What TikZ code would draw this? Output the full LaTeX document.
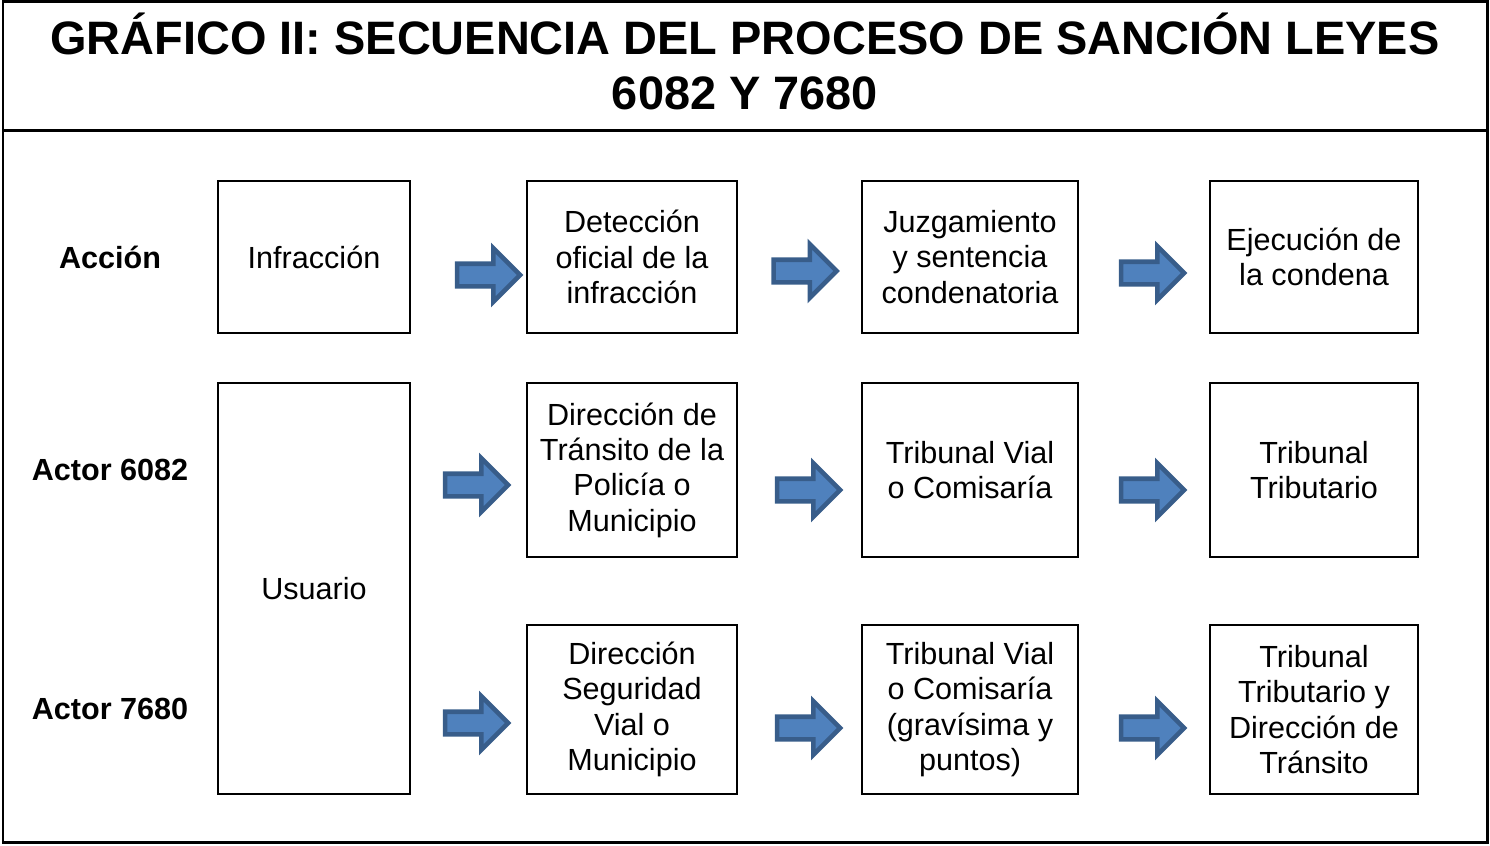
\documentclass[tikz,border=0pt]{standalone}
\usepackage{fontspec}
\setmainfont{Liberation Sans}
\usetikzlibrary{shapes.arrows}
\definecolor{flechefond}{HTML}{4F81BD}
\definecolor{flechebord}{HTML}{385D8A}
\tikzset{
    boite/.style={draw, line width=1.3pt, align=center, inner sep=0pt,
        font=\fontsize{17.4}{20.1}\selectfont},
    etiquette/.style={font=\fontsize{17.4}{20.1}\selectfont\bfseries},
    fleche/.style={single arrow, draw=flechebord, fill=flechefond, line width=2.6pt,
        minimum height=1.26cm, single arrow head extend=0.31cm,
        inner xsep=0pt, inner ysep=0.18cm, text height=0pt, text depth=0pt}
}
\begin{document}
\begin{tikzpicture}[x=0.02cm,y=-0.02cm]
    \useasboundingbox (0,0) rectangle (1490,845);
    % Cadre et bandeau du titre
    \draw[line width=1.7pt] (3,1.5) rectangle (1487,842);
    \draw[line width=1.7pt] (3,130.5) -- (1487,130.5);
    \node[font=\fontsize{26.7}{31.2}\selectfont\bfseries, align=center] (titre) at (745,61.5)
        {GRÁFICO II: SECUENCIA DEL PROCESO DE SANCIÓN LEYES\\6082 Y 7680};
    % Etiquettes des lignes
    \node[etiquette] (accion) at (110,257) {Acción};
    \node[etiquette] (actor6082) at (110,470) {Actor 6082};
    \node[etiquette] (actor7680) at (110,709) {Actor 7680};
    % Premiere colonne
    \node[boite, minimum width=3.84cm, minimum height=3.04cm] (infraccion) at (314,257) {Infracción};
    \node[boite, minimum width=3.84cm, minimum height=8.22cm] (usuario) at (314,588.5) {Usuario};
    % Ligne Accion
    \node[boite, minimum width=4.2cm, minimum height=3.04cm] (deteccion) at (632,257)
        {Detección\\oficial de la\\infracción};
    \node[boite, minimum width=4.32cm, minimum height=3.04cm] (juzgamiento) at (970,257)
        {Juzgamiento\\y sentencia\\condenatoria};
    \node[boite, minimum width=4.16cm, minimum height=3.04cm] (ejecucion) at (1314,257)
        {Ejecución de\\la condena};
    % Ligne Actor 6082
    \node[boite, minimum width=4.2cm, minimum height=3.48cm] (transito) at (632,470)
        {Dirección de\\Tránsito de la\\Policía o\\Municipio};
    \node[boite, minimum width=4.32cm, minimum height=3.48cm] (vialA) at (970,470)
        {Tribunal Vial\\o Comisaría};
    \node[boite, minimum width=4.16cm, minimum height=3.48cm] (tributarioA) at (1314,470)
        {Tribunal\\Tributario};
    % Ligne Actor 7680
    \node[boite, minimum width=4.2cm, minimum height=3.38cm] (seguridad) at (632,709.5)
        {Dirección\\Seguridad\\Vial o\\Municipio};
    \node[boite, minimum width=4.32cm, minimum height=3.38cm] (vialB) at (970,709.5)
        {Tribunal Vial\\o Comisaría\\(gravísima y\\puntos)};
    \node[boite, minimum width=4.16cm, minimum height=3.38cm] (tributarioB) at (1314,709.5)
        {Tribunal\\Tributario y\\Dirección de\\Tránsito};
    % Fleches bleues
    \node[fleche] (f11) at (483,275) {};
    \node[fleche] (f12) at (799.5,271) {};
    \node[fleche] (f13) at (1147,273) {};
    \node[fleche] (f21) at (471,485) {};
    \node[fleche] (f22) at (803,490) {};
    \node[fleche] (f23) at (1147,490) {};
    \node[fleche] (f31) at (471,723) {};
    \node[fleche] (f32) at (803,728) {};
    \node[fleche] (f33) at (1147,728) {};
\end{tikzpicture}
\end{document}
